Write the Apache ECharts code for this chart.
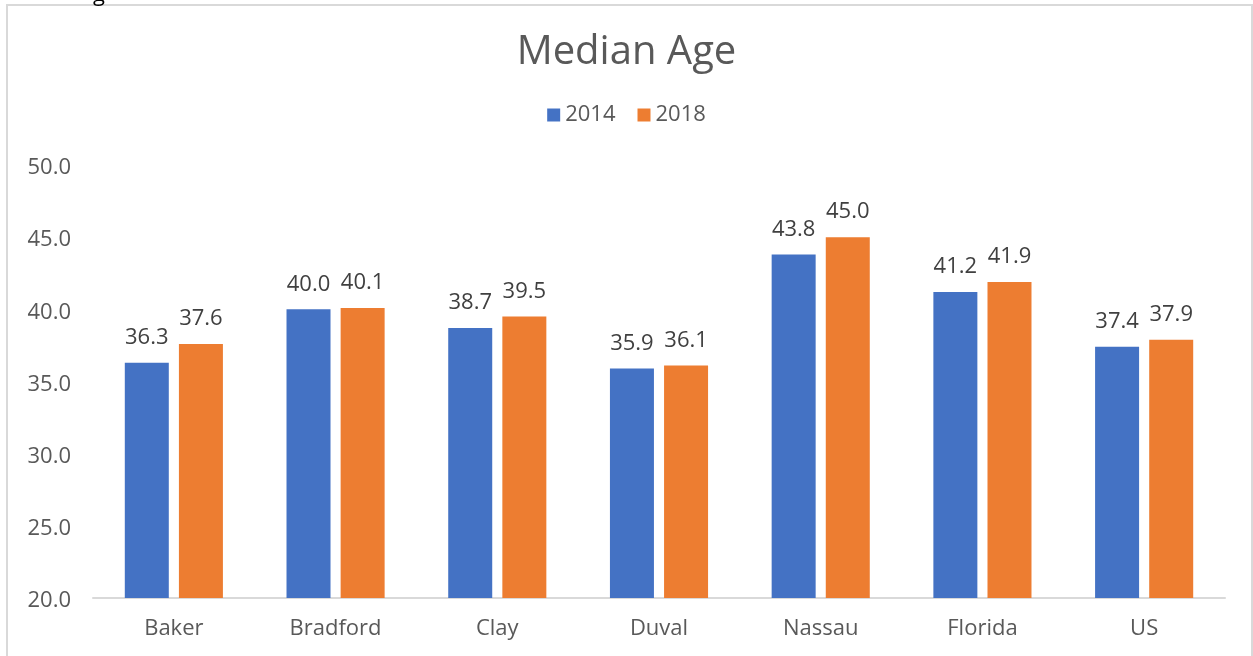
<!DOCTYPE html>
<html><head><meta charset="utf-8">
<script src="https://cdn.jsdelivr.net/npm/echarts@6/dist/echarts.min.js"></script>
<style>html,body{margin:0;padding:0;background:#fff}#c{width:1253px;height:656px}</style>
</head><body><div id="c"></div>
<script>
const categories = ['Baker','Bradford','Clay','Duval','Nassau','Florida','US'];
const values2014 = [36.3, 40.0, 38.7, 35.9, 43.8, 41.2, 37.4];
const values2018 = [37.6, 40.1, 39.5, 36.1, 45.0, 41.9, 37.9];
const seriesNames = ['2014','2018'];
const FONT = '"Open Sans", sans-serif';
const chart = echarts.init(document.getElementById('c'));
const lbl = {show:true, position:'top', distance:14, color:'#404040', fontSize:22, fontFamily:FONT, formatter:p=>p.value.toFixed(1)};
chart.setOption({
  animation:false,
  title:{text:'Median Age', left:'center', top:28, textStyle:{color:'#595959', fontSize:40, fontWeight:'normal', fontFamily:FONT}},
  legend:{top:99, left:'center', itemWidth:13, itemHeight:13, itemGap:22, icon:'rect',
    textStyle:{color:'#595959', fontSize:22, fontFamily:FONT}, data:seriesNames},
  graphic:[
    {type:'rect', shape:{x:7, y:5, width:1245, height:700}, style:{fill:'none', stroke:'#d9d9d9', lineWidth:2}},
    {type:'text', left:93, top:-16, style:{text:'g', fontSize:22, fill:'#000', fontFamily:FONT}}
  ],
  grid:{left:93, right:28, top:165, bottom:58},
  xAxis:{type:'category', data:categories, axisTick:{show:false},
    axisLine:{lineStyle:{color:'#d9d9d9', width:2}},
    axisLabel:{color:'#595959', fontSize:22, fontFamily:FONT, margin:20}},
  yAxis:{type:'value', min:20, max:50, interval:5, splitLine:{show:false},
    axisLabel:{margin:22, formatter:v=>'{a|'+v.toFixed(1)+'}',
      rich:{a:{color:'#595959', fontSize:22, fontFamily:FONT, padding:[6,0,0,0]}}}},
  series:[
    {name:seriesNames[0], type:'bar', data:values2014, barWidth:44, barGap:'23%', itemStyle:{color:'#4472C4'}, label:lbl},
    {name:seriesNames[1], type:'bar', data:values2018, barWidth:44, itemStyle:{color:'#ED7D31'}, label:lbl}
  ]
});
</script></body></html>
